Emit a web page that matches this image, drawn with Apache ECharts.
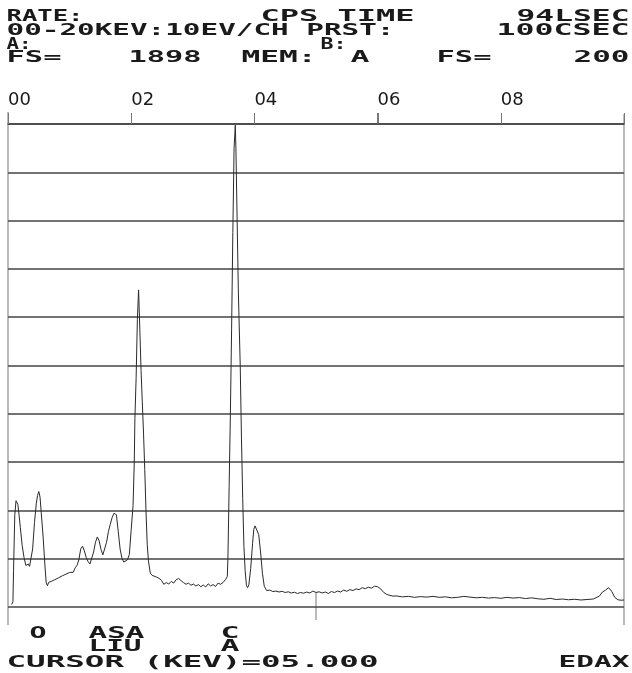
<!DOCTYPE html>
<html><head><meta charset="utf-8">
<script src="https://cdn.jsdelivr.net/npm/echarts@6/dist/echarts.min.js"></script>
<style>html,body{margin:0;padding:0;background:#fff}#c{width:632px;height:673px}</style>
</head><body><div id="c"></div>
<script>
// ---- data ----
const energyKeV = [
0.06,0.08,0.09,0.11,0.13,0.14,0.16,0.18,0.20,0.23,0.26,0.29,0.31,0.33,0.35,0.37,0.40,0.43,0.46,0.48,
0.50,0.52,0.54,0.57,0.60,0.62,0.64,0.66,0.68,0.70,0.73,0.76,0.79,0.82,0.85,0.88,0.91,0.94,0.97,1.00,
1.03,1.06,1.09,1.12,1.15,1.18,1.21,1.24,1.27,1.30,1.33,1.36,1.39,1.42,1.45,1.48,1.51,1.54,1.57,1.60,
1.63,1.66,1.69,1.72,1.74,1.76,1.79,1.82,1.85,1.88,1.91,1.94,1.97,2.00,2.03,2.05,2.06,2.08,2.10,2.12,
2.14,2.16,2.18,2.20,2.22,2.24,2.26,2.28,2.31,2.34,2.37,2.41,2.45,2.49,2.53,2.57,2.61,2.65,2.69,2.73,
2.77,2.81,2.85,2.89,2.93,2.97,3.01,3.05,3.09,3.13,3.17,3.21,3.25,3.29,3.33,3.37,3.41,3.45,3.49,3.53,
3.56,3.57,3.59,3.61,3.63,3.65,3.67,3.69,3.70,3.72,3.74,3.77,3.79,3.81,3.83,3.85,3.87,3.89,3.91,3.94,
3.97,3.99,4.01,4.04,4.07,4.10,4.13,4.16,4.20,4.25,4.30,4.35,4.40,4.45,4.50,4.55,4.60,4.65,4.70,4.75,
4.80,4.85,4.90,4.95,5.00,5.05,5.10,5.15,5.20,5.25,5.30,5.35,5.40,5.45,5.50,5.55,5.60,5.65,5.70,5.75,
5.80,5.85,5.90,5.95,6.00,6.05,6.10,6.15,6.20,6.25,6.30,6.40,6.50,6.60,6.70,6.80,6.90,7.00,7.10,7.20,
7.30,7.40,7.50,7.60,7.70,7.80,7.90,8.00,8.10,8.20,8.30,8.40,8.50,8.60,8.70,8.80,8.90,9.00,9.10,9.20,
9.30,9.40,9.50,9.60,9.65,9.70,9.75,9.80,9.85,9.90,9.95,10.00
];
const counts = [
10,22,150,380,440,448,425,380,330,255,205,172,166,178,168,162,240,350,430,462,
478,455,390,290,170,100,88,102,94,106,99,113,107,121,114,129,121,136,128,143,
151,144,162,172,195,240,252,232,205,188,178,184,228,268,290,274,238,216,210,268,
312,342,370,388,396,382,312,240,202,186,180,196,218,320,420,600,780,950,1190,1313,
1150,980,850,720,570,400,260,190,140,131,136,124,119,111,94,101,95,106,99,113,
118,109,101,94,99,90,95,87,93,84,91,83,96,87,93,85,99,94,101,113,
126,200,500,800,1150,1550,1900,1995,1900,1600,1300,1000,700,450,250,150,90,80,92,160,
262,322,336,328,300,228,140,86,68,70,64,66,62,65,60,63,58,61,56,60,
57,62,58,66,60,63,58,62,56,64,60,66,62,70,65,72,68,75,72,80,
76,82,78,86,84,75,60,52,48,45,46,42,44,40,43,41,44,40,42,38,
40,44,41,38,40,37,39,36,40,37,39,35,38,34,32,36,31,33,30,32,
29,31,33,45,62,70,80,65,40,30,28,29
];
const xTickValues = [0, 2, 4, 6, 8, 10];
const xTickLabels = ['00','02','04','06','08',''];
const cursorKeV = 5.0;
const headerLine1 = ['RATE:', 'CPS TIME', '94LSEC'];
const headerLine2 = ['00-20KEV:10EV/CH PRST:', '100CSEC'];
const headerLine3 = ['A:', 'B:'];
const headerLine4 = ['FS=', '1898', 'MEM:', 'A', 'FS=', '200'];
const elementLine1 = ['O', 'ASA', 'C'];
const elementLine2 = ['LIU', 'A'];
const footerTexts = ['CURSOR (KEV)=05.000', 'EDAX'];

// ---- layout (ink extents [left,right] and cap-centre y) ----
const layout = [
  [headerLine1, [[8,82],[262,413],[518,628]], 15.5],
  [headerLine2, [[8,393],[498,628]], 30],
  [headerLine3, [[8,30],[322,345]], 43.5],
  [headerLine4, [[8,60],[130,200],[243,315],[352,368],[438,490],[575,628]], 57],
  [elementLine1, [[31,45],[90,143],[222,238]], 633],
  [elementLine2, [[90,140],[222,238]], 646],
  [footerTexts, [[8,377],[560,628]], 661.5]
];

const FONT = '"DejaVu Sans Mono"';
const FS = 16;
const ctx = document.createElement('canvas').getContext('2d');
function measure(s){ ctx.font = 'bold ' + FS + 'px ' + FONT; return ctx.measureText(s).width; }

const textEls = [];
layout.forEach(([texts, ext, cy]) => {
  texts.forEach((s, i) => {
    const [l, r] = ext[i];
    const w = measure(s);
    const target = (r - l) + 3;
    const sx = target / w;
    textEls.push({
      type: 'text', x: l - 1.5, y: cy + 1, scaleX: sx, scaleY: 1,
      style: { text: s, fontFamily: FONT, fontSize: FS, fontWeight: 'bold', fill: '#1a1a1a', align: 'left', verticalAlign: 'middle' },
      silent: true
    });
  });
});

const data = energyKeV.map((e, i) => [e, counts[i]]);

const chart = echarts.init(document.getElementById('c'), null, { renderer: 'canvas' });
chart.setOption({
  animation: false,
  backgroundColor: '#ffffff',
  grid: { left: 8, right: 8, top: 124, bottom: 66 },
  xAxis: {
    type: 'value', min: 0, max: 10, interval: 2, position: 'top',
    axisLine: { show: true, onZero: false, lineStyle: { color: '#444', width: 1.5 } },
    axisTick: { show: true, inside: false, length: 11, lineStyle: { color: '#777', width: 1 } },
    axisLabel: {
      show: true, formatter: v => xTickLabels[Math.round(v / 2)],
      align: 'left', margin: 15,
      fontFamily: 'DejaVu Sans', fontSize: 18, color: '#1a1a1a',
      showMinLabel: true, showMaxLabel: true
    },
    splitLine: { show: false }
  },
  yAxis: {
    type: 'value', min: 0, max: 2000, interval: 200,
    axisLine: { show: false }, axisTick: { show: false }, axisLabel: { show: false },
    splitLine: { show: true, lineStyle: { color: '#444', width: 1.5 } }
  },
  series: [{
    type: 'line', data: data, showSymbol: false, symbol: 'none', clip: true,
    lineStyle: { color: '#2a2a2a', width: 1 }
  }],
  graphic: textEls
});

// edge lines, top ticks and cursor, positioned through the axes' scales
const pTopL = chart.convertToPixel({ gridIndex: 0 }, [0, 2000]);
const pBotR = chart.convertToPixel({ gridIndex: 0 }, [10, 0]);
const cur = chart.convertToPixel({ gridIndex: 0 }, [cursorKeV, 58]);
const extra = [
  { type: 'line', shape: { x1: pTopL[0], y1: pTopL[1] - 12, x2: pTopL[0], y2: pBotR[1] + 18 }, style: { stroke: '#777', lineWidth: 1 }, silent: true },
  { type: 'line', shape: { x1: pBotR[0], y1: pTopL[1] - 10, x2: pBotR[0], y2: pBotR[1] + 18 }, style: { stroke: '#777', lineWidth: 1 }, silent: true },
  { type: 'line', shape: { x1: cur[0], y1: cur[1], x2: cur[0], y2: pBotR[1] + 13 }, style: { stroke: '#777', lineWidth: 1 }, silent: true }
];
xTickValues.forEach(v => {
  const p = chart.convertToPixel({ gridIndex: 0 }, [v, 2000]);
  extra.push({ type: 'line', shape: { x1: Math.round(p[0]) + 0.5, y1: p[1] - 11, x2: Math.round(p[0]) + 0.5, y2: p[1] }, style: { stroke: '#777', lineWidth: 1 }, silent: true });
});
chart.setOption({ graphic: textEls.concat(extra) });
</script></body></html>
